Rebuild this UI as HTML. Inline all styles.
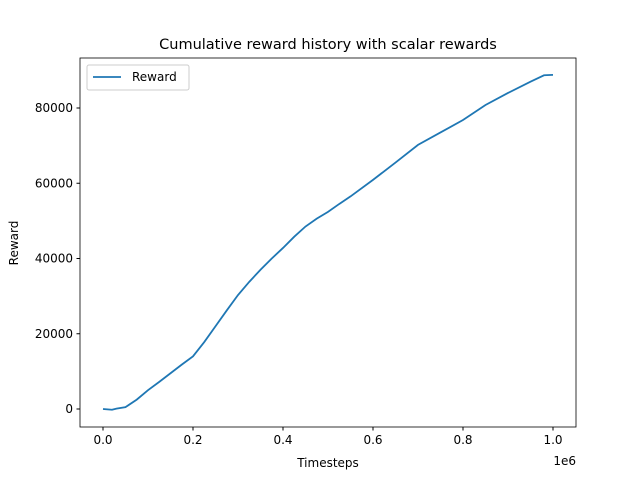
<!DOCTYPE html>
<html><head><meta charset="utf-8"><style>
body{margin:0;background:#fff;font-family:"Liberation Sans","DejaVu Sans",sans-serif}
text{font-family:"DejaVu Sans","Liberation Sans",sans-serif;font-size:12px;fill:#000}
</style></head><body>
<svg id="c" width="640" height="480">
<rect x="0" y="0" width="640" height="480" fill="#fff"/>
</svg>
<script>
const xs=[0,0.01,0.02,0.03,0.05,0.075,0.1,0.125,0.15,0.175,0.2,0.225,0.25,0.275,0.3,0.325,0.35,0.375,0.4,0.425,0.45,0.475,0.5,0.525,0.55,0.6,0.65,0.7,0.75,0.8,0.85,0.9,0.95,0.98,1.0];
const ys=[0,-100,-200,100,500,2500,5000,7200,9500,11800,14000,17800,22000,26200,30300,33800,37000,40000,42800,45800,48500,50600,52400,54500,56500,60900,65500,70200,73500,76800,80800,84000,87000,88700,88800];
const xTicks=[0,0.2,0.4,0.6,0.8,1.0];
const xTickLabels=["0.0","0.2","0.4","0.6","0.8","1.0"];
const yTicks=[0,20000,40000,60000,80000];
const yTickLabels=["0","20000","40000","60000","80000"];
const svg=document.getElementById('c');const NS='http://www.w3.org/2000/svg';
const L=80,R=576,T=58,B=427;
const X=v=>103+v*450;
const Y=v=>409-v*301/80000;
function mk(t,a,p){const e=document.createElementNS(NS,t);for(const k in a)e.setAttribute(k,a[k]);(p||svg).appendChild(e);return e;}
let t=mk('text',{x:328,y:49,'text-anchor':'middle',style:'font-size:14.5px'});t.textContent='Cumulative reward history with scalar rewards';


xTicks.forEach((v,i)=>{mk('line',{x1:X(v),x2:X(v),y1:B,y2:B+3.5,stroke:'#000'});
const e=mk('text',{x:X(v),y:B+17,'text-anchor':'middle'});e.textContent=xTickLabels[i];

});
yTicks.forEach((v,i)=>{mk('line',{x1:L-3.5,x2:L,y1:Y(v),y2:Y(v),stroke:'#000'});
const e=mk('text',{x:L-7,y:Y(v)+4,'text-anchor':'end'});e.textContent=yTickLabels[i];

});
let xl=mk('text',{x:328,y:467,'text-anchor':'middle'});xl.textContent='Timesteps';


let yl=mk('text',{x:18,y:243,'text-anchor':'middle',transform:'rotate(-90 18 243)'});yl.textContent='Reward';


let ex=mk('text',{x:576,y:465,'text-anchor':'end'});ex.textContent='1e6';


const pl=mk('polyline',{points:xs.map((v,i)=>X(v)+','+Y(ys[i])).join(' '),fill:'none',stroke:'#1f77b4','stroke-width':'1.8'});


const fr=mk('rect',{x:L,y:T,width:R-L,height:B-T,fill:'none',stroke:'#000','stroke-width':'0.8'});


const g=mk('g',{});


mk('rect',{x:87,y:65,width:102,height:25,rx:2,fill:'#fff',stroke:'#ccc'},g);
mk('line',{x1:93,x2:121,y1:77,y2:77,stroke:'#1f77b4','stroke-width':'1.8'},g);
const lt=mk('text',{x:132,y:81},g);lt.textContent='Reward';


</script>
</body></html>
